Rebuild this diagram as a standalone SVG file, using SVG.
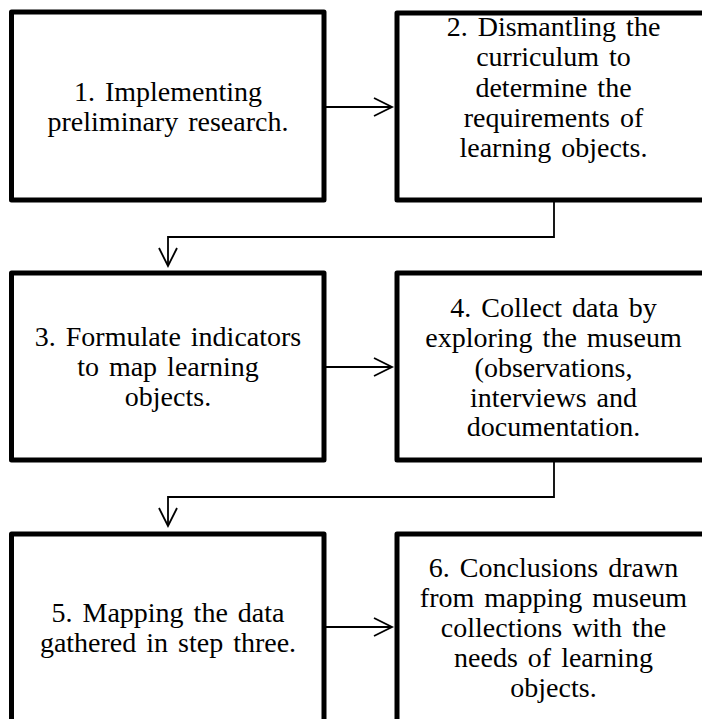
<svg xmlns="http://www.w3.org/2000/svg" width="702" height="719" viewBox="0 0 702 719">
<style>
.box{fill:#fff;stroke:#000;stroke-width:5;stroke-linejoin:round}
.lbl{font-size:28px;fill:#000;text-anchor:middle;word-spacing:3px}
.con{fill:none;stroke:#000;stroke-width:1.8;marker-end:url(#ah)}
</style>
<defs>
<marker id="ah" markerUnits="userSpaceOnUse" markerWidth="24" markerHeight="24" viewBox="-20 -12 24 24" refX="0" refY="0" orient="auto">
<path d="M-18,-9 L0,0 L-18,9" fill="none" stroke="#000" stroke-width="1.8"/>
</marker>
</defs>
<rect width="702" height="719" fill="#fff"/>
<g id="connectors">
<path class="con" d="M326,107 H392"/>
<path class="con" d="M554,202 V237 H168 V266"/>
<path class="con" d="M326,367 H392"/>
<path class="con" d="M554,462 V497 H168 V526"/>
<path class="con" d="M326,627 H392"/>
</g>
<g font-family="'Times New Roman', Times, 'Liberation Serif', 'DejaVu Serif', serif">
<g id="node1">
<rect class="box" x="11.5" y="12" width="312.5" height="188"/>
<text class="lbl"><tspan x="168" y="101">1. Implementing</tspan><tspan x="168" y="131">preliminary research.</tspan></text>
</g>
<g id="node2">
<rect class="box" x="397" y="13" width="313" height="187"/>
<text class="lbl"><tspan x="553.5" y="36">2. Dismantling the</tspan><tspan x="553.5" y="66.3">curriculum to</tspan><tspan x="553.5" y="96.5">determine the</tspan><tspan x="553.5" y="126.8">requirements of</tspan><tspan x="553.5" y="157">learning objects.</tspan></text>
</g>
<g id="node3">
<rect class="box" x="11.5" y="273" width="312.5" height="187"/>
<text class="lbl"><tspan x="168" y="346">3. Formulate indicators</tspan><tspan x="168" y="376">to map learning</tspan><tspan x="168" y="406">objects.</tspan></text>
</g>
<g id="node4">
<rect class="box" x="397" y="273" width="313" height="187"/>
<text class="lbl"><tspan x="553.5" y="316.5">4. Collect data by</tspan><tspan x="553.5" y="346.5">exploring the museum</tspan><tspan x="553.5" y="376.5">(observations,</tspan><tspan x="553.5" y="406.5">interviews and</tspan><tspan x="553.5" y="436">documentation.</tspan></text>
</g>
<g id="node5">
<rect class="box" x="11.5" y="534" width="312.5" height="190"/>
<text class="lbl"><tspan x="168" y="621.5">5. Mapping the data</tspan><tspan x="168" y="651.5">gathered in step three.</tspan></text>
</g>
<g id="node6">
<rect class="box" x="397" y="534" width="313" height="190"/>
<text class="lbl"><tspan x="553.5" y="576.5">6. Conclusions drawn</tspan><tspan x="553.5" y="606.5">from mapping museum</tspan><tspan x="553.5" y="636.5">collections with the</tspan><tspan x="553.5" y="666.5">needs of learning</tspan><tspan x="553.5" y="696.5">objects.</tspan></text>
</g>
</g>
</svg>
